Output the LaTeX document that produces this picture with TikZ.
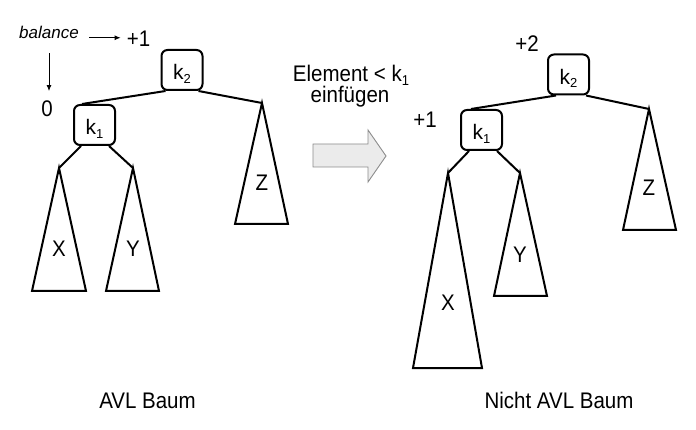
\documentclass[tikz,border=0pt]{standalone}
\usepackage{fontspec}
\setmainfont{Liberation Sans}
\usetikzlibrary{arrows.meta}
\newcommand\subs[1]{\raisebox{-3.5pt}[0pt][0pt]{\fontsize{13}{13}\selectfont #1}}
\newcommand\tall[1]{\scalebox{1}[1.1]{#1}}
\begin{document}
\begin{tikzpicture}[x=1pt,y=-1pt,
  kbox/.style={draw, line width=2pt, rounded corners=6pt, minimum width=41pt,
    minimum height=40pt, inner sep=0pt, text height=20pt, text depth=0pt,
    font=\fontsize{21}{24}\selectfont},
  edge/.style={line width=2pt},
  tri/.style={line width=2pt, line join=miter},
  lab/.style={font=\fontsize{20.5}{24}\selectfont, anchor=base, inner sep=0pt},
  thinarrow/.style={line width=0.9pt},
  bigarrow/.style={draw=black!45, line width=0.9pt, fill=black!8}
]
\useasboundingbox (0,0) rectangle (696,430);

% ---------- left tree ----------
\node[lab, font=\fontsize{17}{20}\selectfont\itshape] (bal) at (49,39) {balance};
\node[lab] (p1L) at (138.5,46.5) {\tall{+1}};
\node[lab] (z0) at (47,117) {\tall{0}};
\draw[thinarrow, {Latex[length=6pt,width=5pt]}-] ([shift={(-6,-1)}]p1L.west) -- ++(-32,0);
\draw[thinarrow, {Latex[length=6pt,width=5pt]}-] ([shift={(2,-10)}]z0.north) -- ++(0,-38);

\node[kbox] (k2L) at (182,70) {k\subs{2}};
\node[kbox] (k1L) at (94.5,125) {k\subs{1}};

\coordinate (zLa) at (262,103);
\coordinate (xLa) at (59,168);
\coordinate (yLa) at (133,168);

\draw[edge] ([xshift=5pt]k2L.south west) -- ([xshift=9pt]k1L.north west);
\draw[edge] ([xshift=-5pt]k2L.south east) -- (zLa);
\draw[edge] ([xshift=8pt]k1L.south west) -- (xLa);
\draw[edge] ([xshift=-7pt]k1L.south east) -- (yLa);

\draw[tri] (zLa) -- (235,224) -- (288,224) -- cycle;
\draw[tri] (xLa) -- (32,291) -- (86,291) -- cycle;
\draw[tri] (yLa) -- (106,291) -- (159,291) -- cycle;
\node[lab] (zL) at (262,191) {\tall{Z}};
\node[lab] (xL) at (59,257) {\tall{X}};
\node[lab] (yL) at (133,257) {\tall{Y}};

\node[lab] (capL) at (147.5,408) {\tall{AVL Baum}};

% ---------- middle ----------
\node[lab] (el1) at (351,82) {\tall{Element < k\subs{1}}};
\node[lab] (el2) at (350,102.5) {\tall{einfügen}};
\draw[bigarrow] (313,144) -- (368,144) -- (368,130) -- (386,156) -- (368,182)
  -- (368,167) -- (313,167) -- cycle;

% ---------- right tree ----------
\node[lab] (p2R) at (527,52) {\tall{+2}};
\node[lab] (p1R) at (425,128) {\tall{+1}};

\node[kbox] (k2R) at (568.5,74.5) {k\subs{2}};
\node[kbox] (k1R) at (481.5,130) {k\subs{1}};

\coordinate (zRa) at (649,109);
\coordinate (xRa) at (448,173);
\coordinate (yRa) at (520,173);

\draw[edge] ([xshift=9pt]k2R.south west) -- ([xshift=11pt]k1R.north west);
\draw[edge] ([xshift=-4pt]k2R.south east) -- (zRa);
\draw[edge] ([xshift=9pt]k1R.south west) -- (xRa);
\draw[edge] ([xshift=-6pt]k1R.south east) -- (yRa);

\draw[tri] (zRa) -- (623,230) -- (676,230) -- cycle;
\draw[tri] (xRa) -- (413,368) -- (482,368) -- cycle;
\draw[tri] (yRa) -- (494,296) -- (547,296) -- cycle;
\node[lab] (zR) at (649,196) {\tall{Z}};
\node[lab] (xR) at (448,310) {\tall{X}};
\node[lab] (yR) at (520,263) {\tall{Y}};

\node[lab] (capR) at (559,408) {\tall{Nicht AVL Baum}};
\end{tikzpicture}
\end{document}
